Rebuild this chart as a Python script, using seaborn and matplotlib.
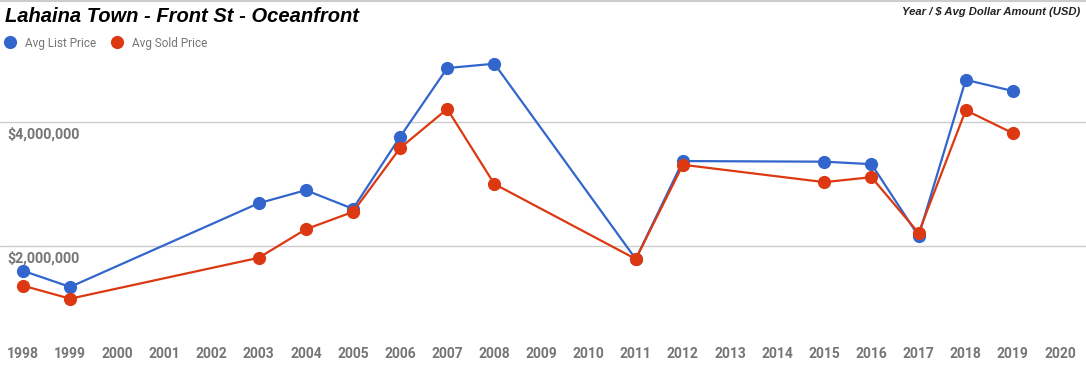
import pandas as pd
import seaborn as sns
import matplotlib.pyplot as plt
from matplotlib.lines import Line2D

years = [1998, 1999, 2003, 2004, 2005, 2006, 2007, 2008, 2011, 2012, 2015, 2016, 2017, 2018, 2019]
list_price = [1.60e6, 1.34e6, 2.69e6, 2.90e6, 2.60e6, 3.76e6, 4.87e6, 4.94e6,
              1.79e6, 3.37e6, 3.36e6, 3.32e6, 2.16e6, 4.68e6, 4.50e6]
sold_price = [1.36e6, 1.15e6, 1.81e6, 2.27e6, 2.55e6, 3.58e6, 4.21e6, 3.00e6,
              1.79e6, 3.31e6, 3.03e6, 3.11e6, 2.21e6, 4.19e6, 3.82e6]
series = ['Avg List Price', 'Avg Sold Price']
colors = ['#3366cc', '#dc3912']
tick_years = list(range(1998, 2021))
grid_vals = [2e6, 4e6]
grid_labels = ['$2,000,000', '$4,000,000']

df = pd.DataFrame({
    'Year': years * 2,
    'Price': list_price + sold_price,
    'Series': [series[0]] * len(years) + [series[1]] * len(years),
})

sns.set_style('white')
plt.rcParams['font.family'] = ['Roboto', 'DejaVu Sans']

W, H = 1086, 369
fig = plt.figure(figsize=(W / 100, H / 100), dpi=100)
ax = fig.add_axes([0, 29 / H, 1, 340 / H])

sns.lineplot(data=df, x='Year', y='Price', hue='Series', hue_order=series,
             palette=colors, marker='o', markersize=9.5, markeredgewidth=0,
             linewidth=1.6, ax=ax, legend=False)

ax.set_xlim(1998 - 23 / 47.14, 2020 + 26 / 47.14)
ax.set_ylim((370 - 340) / 62 * 1e6, 370 / 62 * 1e6)

ax.set_xticks(tick_years)
ax.set_xticklabels([str(y) for y in tick_years], fontsize=10, fontweight='bold', color='#757575')
ax.tick_params(axis='x', length=0, pad=5)
ax.set_yticks([])
for v in grid_vals:
    ax.axhline(v, color='#cccccc', linewidth=1, zorder=0)
for v, lab in zip(grid_vals, grid_labels):
    ax.annotate(lab, xy=(0, v), xycoords=('axes fraction', 'data'),
                xytext=(7, -5), textcoords='offset pixels',
                ha='left', va='top', fontsize=10.3, fontweight='bold', color='#757575')

ax.set_xlabel('')
ax.set_ylabel('')
for s in ['left', 'right', 'bottom', 'top']:
    ax.spines[s].set_visible(False)

fig.add_artist(Line2D([0, 1], [1 - 1 / H, 1 - 1 / H], color='#cccccc', linewidth=1.5))

fig.text(5 / W, 1 - 16 / H, 'Lahaina Town - Front St - Oceanfront', family='Liberation Sans',
         fontsize=14.5, fontweight='bold', style='italic', va='center', ha='left', color='black')
fig.text(1080 / W, 1 - 12 / H, 'Year / $ Avg Dollar Amount (USD)', family='Liberation Sans',
         fontsize=8.1, fontweight='bold', style='italic', va='center', ha='right', color='#222222')

handles = [Line2D([], [], marker='o', linestyle='', color=c, markersize=9.5, markeredgewidth=0)
           for c in colors]
leg = fig.legend(handles, series, loc='center left', bbox_to_anchor=(-7 / W, 1 - 43 / H),
                 ncol=2, frameon=False, handlelength=1.0, handletextpad=0.77,
                 columnspacing=1.3, prop={'size': 8.5})
for t in leg.get_texts():
    t.set_color('#757575')

fig.savefig('out.png', dpi=100)
